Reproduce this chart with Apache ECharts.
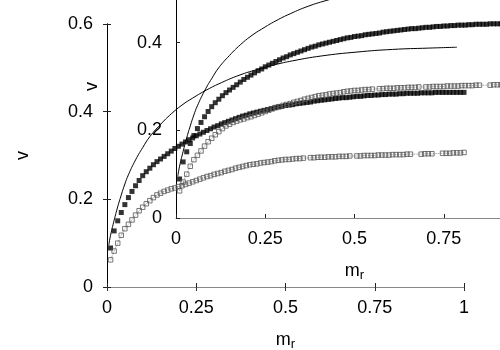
<!DOCTYPE html>
<html>
<head>
<meta charset="utf-8">
<style>
  html, body { margin: 0; padding: 0; background: #fff; }
  #chart { width: 500px; height: 350px; }
</style>
<script src="https://cdn.jsdelivr.net/npm/echarts@6/dist/echarts.min.js"></script>
</head>
<body>
<div id="chart"></div>
<script>
// m_r sample positions of the simulation points
const xs = [
  0.01, 0.02, 0.03, 0.04, 0.05, 0.06, 0.07, 0.08, 0.09, 0.10,
  0.11, 0.12, 0.13, 0.14, 0.15, 0.16, 0.17, 0.18, 0.19, 0.20,
  0.21, 0.22, 0.23, 0.24, 0.25, 0.26, 0.27, 0.28, 0.29, 0.30,
  0.31, 0.32, 0.33, 0.34, 0.35, 0.36, 0.37, 0.38, 0.39, 0.40,
  0.41, 0.42, 0.43, 0.44, 0.45, 0.46, 0.47, 0.48, 0.49, 0.50,
  0.51, 0.52, 0.53, 0.54, 0.55, 0.56, 0.57, 0.58, 0.59, 0.60,
  0.61, 0.62, 0.63, 0.64, 0.65, 0.66, 0.67, 0.68, 0.69, 0.70,
  0.71, 0.72, 0.73, 0.74, 0.75, 0.76, 0.77, 0.78, 0.79, 0.80,
  0.81, 0.82, 0.83, 0.84, 0.85, 0.86, 0.87, 0.88, 0.89, 0.90,
  0.91, 0.92, 0.93, 0.94, 0.95, 0.96, 0.97, 0.98, 0.99, 1.00
]

// filled squares
const filledV = [
  0.089, 0.128, 0.151, 0.170, 0.188, 0.204, 0.218, 0.231, 0.243, 0.254,
  0.263, 0.271, 0.279, 0.286, 0.292, 0.298, 0.304, 0.310, 0.316, 0.321,
  0.326, 0.331, 0.336, 0.340, 0.345, 0.349, 0.353, 0.357, 0.361, 0.365,
  0.368, 0.372, 0.375, 0.378, 0.381, 0.384, 0.387, 0.390, 0.392, 0.395,
  0.397, 0.399, 0.401, 0.403, 0.405, 0.407, 0.409, 0.411, 0.412, 0.414,
  0.415, 0.416, 0.418, 0.419, 0.420, 0.421, 0.422, 0.424, 0.425, 0.426,
  0.427, 0.428, 0.429, 0.430, 0.431, 0.432, 0.432, 0.433, 0.434, 0.435,
  0.435, 0.436, 0.437, 0.437, 0.438, 0.438, 0.439, 0.439, 0.440, 0.440,
  0.440, 0.441, 0.441, 0.442, 0.442, 0.442, 0.442, 0.443, 0.443, 0.443,
  0.443, 0.444, 0.444, 0.444, 0.444, 0.444, 0.444, 0.444, 0.444, 0.444
]

// open squares (null = no point there)
const openV = [
  0.062, 0.082, 0.100, 0.118, 0.133, 0.143, 0.153, 0.164, 0.174, 0.182,
  0.190, 0.197, 0.204, 0.210, 0.214, 0.218, 0.221, 0.224, 0.226, 0.229,
  0.231, 0.234, 0.237, 0.240, 0.243, 0.246, 0.249, 0.252, 0.254, 0.257,
  0.259, 0.261, 0.264, 0.266, 0.268, 0.271, 0.273, 0.275, 0.277, 0.279,
  0.280, 0.281, 0.283, 0.284, 0.285, 0.286, 0.288, 0.289, 0.290, 0.291,
  0.291, 0.292, 0.293, 0.293, 0.294, null, 0.295, 0.295, 0.296, 0.296,
  0.296, 0.297, 0.297, 0.297, 0.298, 0.298, 0.298, 0.299, null, 0.299,
  0.299, 0.300, 0.300, 0.300, 0.300, 0.301, 0.301, 0.301, 0.301, 0.302,
  0.302, 0.302, 0.302, 0.303, 0.303, null, null, 0.303, 0.304, 0.304,
  0.304, null, null, 0.305, 0.305, 0.305, 0.306, 0.306, 0.306, 0.307
]

// thin solid curve
const thinX = [0.005, 0.01, 0.02, 0.03, 0.04, 0.05, 0.06, 0.08, 0.10, 0.12, 0.15, 0.18, 0.21,
  0.24, 0.28, 0.32, 0.37, 0.42, 0.47, 0.52, 0.60, 0.70, 0.80, 0.90, 0.98]
const thinV = [0.095, 0.118, 0.152, 0.183, 0.210, 0.235, 0.256, 0.290, 0.318, 0.343, 0.371, 0.395, 0.415,
  0.431, 0.450, 0.466, 0.483, 0.496, 0.507, 0.516, 0.527, 0.536, 0.542, 0.545, 0.547]

const xTicks = [0, 0.25, 0.5, 0.75, 1]
const yTicks = [0, 0.2, 0.4, 0.6]

const font = 'Liberation Sans'
const pairs = (x, v) => x.map((d, i) => [d, v[i]]).filter(p => p[1] !== null)

const chart = echarts.init(document.getElementById('chart'))

const nameRich = {
  m: { fontSize: 18, fontFamily: font, color: '#000', lineHeight: 20, verticalAlign: 'top' },
  r: { fontSize: 13, fontFamily: font, color: '#000', lineHeight: 14, padding: [13, 0, 0, 0], verticalAlign: 'bottom' }
}

function xBottom (gridIndex, lineColor) {
  return {
    type: 'value', gridIndex, position: 'bottom',
    min: xTicks[0], max: xTicks[xTicks.length - 1], interval: 0.25,
    splitLine: { show: false },
    axisLine: { lineStyle: { color: lineColor, width: 1 } },
    axisTick: { inside: true, length: 4, lineStyle: { color: '#222' } },
    axisLabel: { fontSize: 18, fontFamily: font, color: '#000', margin: 12 },
    name: '{m|m}{r|r}', nameLocation: 'middle', nameGap: 44,
    nameTextStyle: { rich: nameRich }
  }
}

function yLeft (gridIndex) {
  return {
    type: 'value', gridIndex, position: 'left',
    min: yTicks[0], max: yTicks[yTicks.length - 1], interval: 0.2,
    splitLine: { show: false },
    axisLine: { lineStyle: { color: '#000', width: 1 } },
    axisTick: { inside: true, length: 4, lineStyle: { color: '#222' } },
    axisLabel: { fontSize: 18, fontFamily: font, color: '#000', margin: 14 },
    name: 'v', nameLocation: 'middle', nameGap: 75, nameRotate: 90,
    nameTextStyle: { fontSize: 18, fontFamily: font, color: '#000' }
  }
}

function seriesFor (xi, yi) {
  return [
    {
      type: 'line', xAxisIndex: xi, yAxisIndex: yi,
      data: pairs(xs, openV),
      symbol: 'rect', symbolSize: 4.5, showAllSymbol: true,
      itemStyle: { color: 'rgba(255,255,255,0)', borderColor: '#555', borderWidth: 0.8 },
      lineStyle: { color: '#777', width: 0.8, type: 'dotted' }
    },
    {
      type: 'scatter', xAxisIndex: xi, yAxisIndex: yi,
      data: pairs(xs, filledV),
      symbol: 'rect', symbolSize: 5,
      itemStyle: { color: '#000' }
    },
    {
      type: 'line', xAxisIndex: xi, yAxisIndex: yi,
      data: pairs(thinX, thinV),
      smooth: true, showSymbol: false,
      lineStyle: { color: '#000', width: 1 }
    }
  ]
}

chart.setOption({
  animation: false,
  backgroundColor: '#fff',
  grid: [
    { left: 107, top: 24, width: 357, height: 263, outerBoundsMode: 'none' },
    { left: 176, top: -45, width: 357, height: 263, outerBoundsMode: 'none' }
  ],
  xAxis: [
    xBottom(0, '#000'),
    {
      type: 'value', gridIndex: 0, position: 'top',
      min: 0, max: 1, interval: 0.25,
      splitLine: { show: false },
      axisLine: { lineStyle: { color: '#888', width: 1 } },
      axisTick: { inside: true, length: 4, lineStyle: { color: '#333' } },
      axisLabel: { show: false }
    },
    xBottom(1, '#888')
  ],
  yAxis: [
    yLeft(0),
    {
      type: 'value', gridIndex: 0, position: 'right',
      min: 0, max: 0.6, interval: 0.2,
      splitLine: { show: false },
      axisLine: { lineStyle: { color: '#000', width: 1 } },
      axisTick: { inside: true, length: 4, lineStyle: { color: '#222' } },
      axisLabel: { show: false }
    },
    yLeft(1)
  ],
  series: [...seriesFor(0, 0), ...seriesFor(2, 2)]
})
</script>
</body>
</html>
